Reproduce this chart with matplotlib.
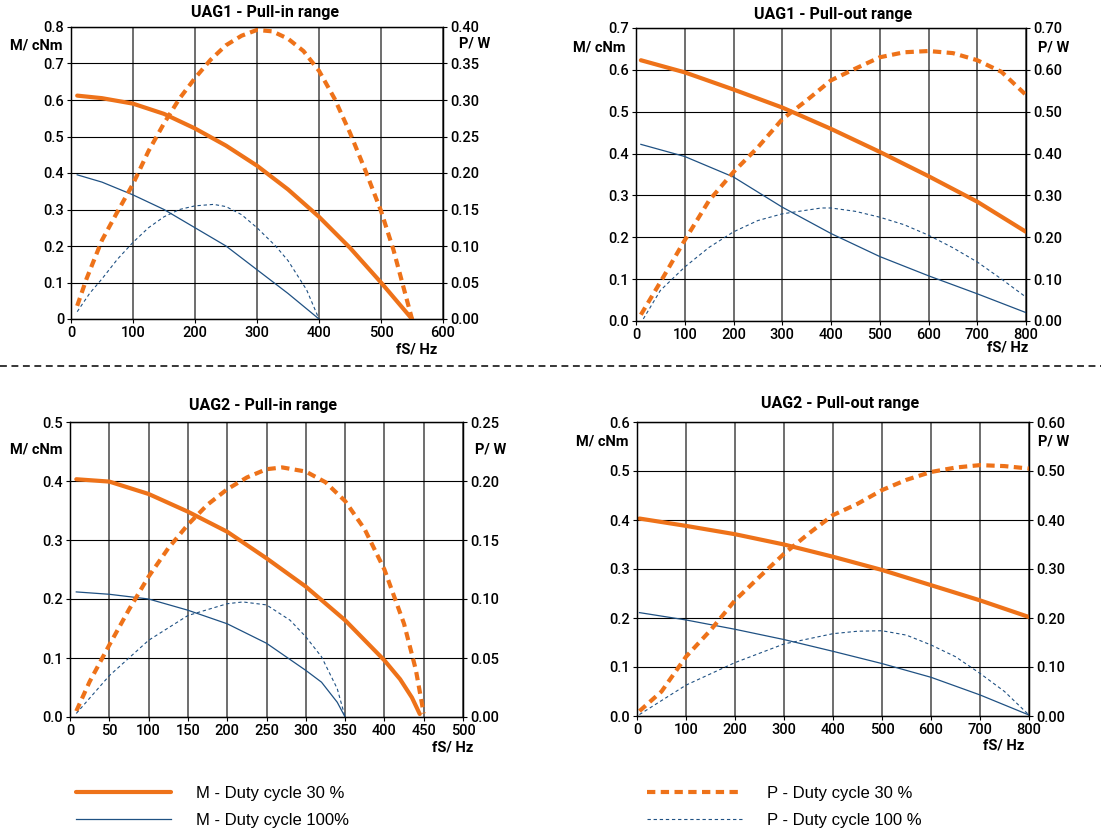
import matplotlib
matplotlib.use("Agg")
import matplotlib.pyplot as plt
from matplotlib.lines import Line2D

ORANGE = "#EE7219"
BLUE = "#1F5183"
plt.rcParams["font.family"] = ["Roboto", "DejaVu Sans"]

# ---- UAG1 pull-in range ----
uag1_in_m30_f = [10, 50, 100, 150, 200, 250, 300, 350, 400, 450, 500, 550]
uag1_in_m30 = [0.612, 0.605, 0.59, 0.562, 0.522, 0.475, 0.42, 0.355, 0.28, 0.195, 0.1, 0.0]
uag1_in_p30_f = [10, 25, 50, 75, 100, 125, 150, 175, 200, 225, 250, 275, 300, 325, 350, 375,
                 400, 425, 450, 475, 500, 520, 550]
uag1_in_p30 = [0.018, 0.055, 0.108, 0.147, 0.185, 0.23, 0.268, 0.302, 0.33, 0.355, 0.375, 0.388,
               0.396, 0.394, 0.384, 0.367, 0.34, 0.302, 0.255, 0.203, 0.148, 0.095, 0.0]
uag1_in_m100_f = [10, 50, 100, 150, 200, 250, 300, 350, 400]
uag1_in_m100 = [0.395, 0.375, 0.34, 0.3, 0.25, 0.2, 0.135, 0.07, 0.0]
uag1_in_p100_f = [10, 30, 50, 75, 100, 125, 150, 175, 200, 230, 250, 275, 300, 330, 350, 380, 400]
uag1_in_p100 = [0.01, 0.035, 0.055, 0.082, 0.105, 0.125, 0.14, 0.15, 0.155, 0.157, 0.154, 0.143,
                0.125, 0.1, 0.08, 0.04, 0.0]

# ---- UAG1 pull-out range ----
uag1_out_m30_f = [10, 100, 200, 300, 400, 500, 600, 700, 800]
uag1_out_m30 = [0.623, 0.594, 0.553, 0.51, 0.459, 0.404, 0.346, 0.285, 0.213]
uag1_out_p30_f = [10, 50, 100, 150, 200, 250, 300, 350, 400, 450, 500, 550, 600, 650, 700, 750, 800]
uag1_out_p30 = [0.015, 0.093, 0.193, 0.288, 0.356, 0.415, 0.482, 0.527, 0.575, 0.603, 0.63,
                0.642, 0.645, 0.64, 0.623, 0.595, 0.54]
uag1_out_m100_f = [10, 100, 200, 300, 400, 500, 600, 700, 800]
uag1_out_m100 = [0.422, 0.393, 0.344, 0.272, 0.209, 0.154, 0.108, 0.065, 0.02]
uag1_out_p100_f = [15, 50, 100, 150, 200, 250, 300, 380, 400, 450, 500, 550, 600, 650, 700, 750, 800]
uag1_out_p100 = [0.005, 0.073, 0.129, 0.176, 0.213, 0.24, 0.256, 0.27, 0.27, 0.262, 0.248, 0.23,
                 0.205, 0.175, 0.141, 0.1, 0.057]

# ---- UAG2 pull-in range ----
uag2_in_m30_f = [8, 50, 100, 150, 200, 250, 300, 350, 400, 420, 435, 445]
uag2_in_m30 = [0.403, 0.399, 0.378, 0.348, 0.314, 0.269, 0.221, 0.164, 0.096, 0.064, 0.033, 0.005]
uag2_in_p30_f = [8, 25, 50, 75, 100, 125, 150, 175, 200, 225, 250, 270, 300, 325, 350, 375, 400,
                 425, 440, 450]
uag2_in_p30 = [0.005, 0.03, 0.061, 0.091, 0.119, 0.143, 0.163, 0.18, 0.193, 0.203, 0.21, 0.2115,
               0.208, 0.199, 0.183, 0.159, 0.125, 0.079, 0.04, 0.003]
uag2_in_m100_f = [8, 50, 100, 150, 200, 250, 300, 320, 340, 350]
uag2_in_m100 = [0.212, 0.208, 0.2, 0.181, 0.158, 0.125, 0.079, 0.059, 0.025, 0.0]
uag2_in_p100_f = [8, 50, 100, 150, 200, 220, 250, 280, 300, 320, 340, 350]
uag2_in_p100 = [0.003, 0.035, 0.065, 0.086, 0.096, 0.0975, 0.095, 0.082, 0.068, 0.051, 0.024, 0.0]

# ---- UAG2 pull-out range ----
uag2_out_m30_f = [5, 100, 200, 300, 400, 500, 600, 700, 800]
uag2_out_m30 = [0.403, 0.388, 0.371, 0.35, 0.325, 0.298, 0.267, 0.236, 0.202]
uag2_out_p30_f = [5, 50, 100, 150, 200, 250, 300, 350, 400, 450, 500, 550, 600, 650, 700, 750, 800]
uag2_out_p30 = [0.01, 0.05, 0.121, 0.175, 0.236, 0.284, 0.331, 0.372, 0.41, 0.433, 0.461,
                0.482, 0.498, 0.507, 0.512, 0.51, 0.505]
uag2_out_m100_f = [5, 100, 200, 300, 400, 500, 600, 700, 800]
uag2_out_m100 = [0.211, 0.196, 0.177, 0.156, 0.132, 0.107, 0.079, 0.043, 0.002]
uag2_out_p100_f = [5, 100, 200, 300, 400, 450, 500, 550, 600, 650, 700, 750, 800]
uag2_out_p100 = [0.003, 0.063, 0.109, 0.147, 0.168, 0.173, 0.174, 0.165, 0.145, 0.121, 0.087,
                 0.05, 0.002]

W, H = 1101, 831
fig = plt.figure(figsize=(W / 100, H / 100), dpi=100)


def px(x0, y0, x1, y1):
    # pixel box -> figure fraction rect
    return [x0 / W, 1 - y1 / H, (x1 - x0) / W, (y1 - y0) / H]


panels = [
    dict(box=(71, 27, 443, 319), title="UAG1 - Pull-in range", tpos=(265, 13),
         xmax=600, xstep=100, ymax=0.8, ystep=0.1, pmax=0.40, pstep=0.05,
         yfmt="{:g}", pfmt="{:.2f}",
         m_lab=(63, 45), p_lab=(459, 43), f_lab=(437, 349),
         data=(uag1_in_m30_f, uag1_in_m30, uag1_in_p30_f, uag1_in_p30,
               uag1_in_m100_f, uag1_in_m100, uag1_in_p100_f, uag1_in_p100)),
    dict(box=(636, 28, 1026, 321), title="UAG1 - Pull-out range", tpos=(833, 14),
         xmax=800, xstep=100, ymax=0.7, ystep=0.1, pmax=0.70, pstep=0.10,
         yfmt="{:.1f}", pfmt="{:.2f}",
         m_lab=(625, 47), p_lab=(1038, 47), f_lab=(1028, 348),
         data=(uag1_out_m30_f, uag1_out_m30, uag1_out_p30_f, uag1_out_p30,
               uag1_out_m100_f, uag1_out_m100, uag1_out_p100_f, uag1_out_p100)),
    dict(box=(70, 422, 463, 717), title="UAG2 - Pull-in range", tpos=(263, 405),
         xmax=500, xstep=50, ymax=0.5, ystep=0.1, pmax=0.25, pstep=0.05,
         yfmt="{:.1f}", pfmt="{:.2f}",
         m_lab=(62, 449), p_lab=(475, 449), f_lab=(473, 747),
         data=(uag2_in_m30_f, uag2_in_m30, uag2_in_p30_f, uag2_in_p30,
               uag2_in_m100_f, uag2_in_m100, uag2_in_p100_f, uag2_in_p100)),
    dict(box=(637, 422, 1029, 716), title="UAG2 - Pull-out range", tpos=(840, 404),
         xmax=800, xstep=100, ymax=0.6, ystep=0.1, pmax=0.60, pstep=0.10,
         yfmt="{:.1f}", pfmt="{:.2f}",
         m_lab=(629, 442), p_lab=(1038, 442), f_lab=(1024, 746),
         data=(uag2_out_m30_f, uag2_out_m30, uag2_out_p30_f, uag2_out_p30,
               uag2_out_m100_f, uag2_out_m100, uag2_out_p100_f, uag2_out_p100)),
]

handles = None
for p in panels:
    ax = fig.add_axes(px(*p["box"]))
    ax2 = ax.twinx()
    f30, m30, fp30, p30, f100, m100, fp100, p100 = p["data"]

    l1, = ax.plot(f30, m30, color=ORANGE, lw=3.0, solid_capstyle="round",
                  solid_joinstyle="round")
    l2, = ax.plot(f100, m100, color=BLUE, lw=0.9)
    l3, = ax2.plot(fp30, p30, color=ORANGE, lw=3.0, dashes=(2.0, 1.3))
    l4, = ax2.plot(fp100, p100, color=BLUE, lw=0.8, dashes=(3.0, 2.5))
    if handles is None:
        handles = [l1, l2, l3, l4]

    ax.set_xlim(0, p["xmax"])
    ax.set_ylim(0, p["ymax"])
    ax2.set_ylim(0, p["pmax"])
    n = int(round(p["xmax"] / p["xstep"]))
    xt = [i * p["xstep"] for i in range(n + 1)]
    ax.set_xticks(xt)
    ax.set_xticklabels([str(v) for v in xt])
    ny = int(round(p["ymax"] / p["ystep"]))
    yt = [i * p["ystep"] for i in range(ny + 1)]
    ax.set_yticks(yt)
    ax.set_yticklabels([p["yfmt"].format(round(v, 2)) for v in yt])
    npt = int(round(p["pmax"] / p["pstep"]))
    pt = [i * p["pstep"] for i in range(npt + 1)]
    ax2.set_yticks(pt)
    ax2.set_yticklabels([p["pfmt"].format(v) for v in pt])

    for a in (ax, ax2):
        a.tick_params(labelsize=10.5, length=3, width=0.8, pad=2)
        for lab in a.get_xticklabels() + a.get_yticklabels():
            lab.set_fontweight("medium")
        for s in a.spines.values():
            s.set_linewidth(0.9)
            s.set_color("black")
    ax.xaxis.grid(True, color="#6e6e6e", lw=1.4)
    ax.yaxis.grid(True, color="black", lw=0.8)
    ax.set_axisbelow(True)

    fig.text(p["tpos"][0] / W, 1 - p["tpos"][1] / H, p["title"], ha="center", va="center",
             fontsize=11.5, fontweight="bold")
    fig.text(p["m_lab"][0] / W, 1 - p["m_lab"][1] / H, "M/ cNm", ha="right", va="center",
             fontsize=10.5, fontweight="bold")
    fig.text(p["p_lab"][0] / W, 1 - p["p_lab"][1] / H, "P/ W", ha="left", va="center",
             fontsize=10.5, fontweight="bold")
    fig.text(p["f_lab"][0] / W, 1 - p["f_lab"][1] / H, "fS/ Hz", ha="right", va="center",
             fontsize=10.5, fontweight="bold")

# dashed separator between the two rows
fig.add_artist(Line2D([0, 1], [1 - 366 / H, 1 - 366 / H], transform=fig.transFigure,
                      color="black", lw=1.1, dashes=(4.5, 3.0)))

fig.legend(handles, ["M - Duty cycle 30 %", "M - Duty cycle 100%",
                     "P - Duty cycle 30 %", "P - Duty cycle 100 %"],
           ncol=2, loc="upper left", bbox_to_anchor=(76 / W, 1 - 786 / H),
           frameon=False, borderpad=0, borderaxespad=0, handlelength=5.7,
           handletextpad=1.5, columnspacing=17.9, labelspacing=0.7,
           prop={"family": "Liberation Sans", "size": 12})

fig.savefig("out.png", dpi=100)
